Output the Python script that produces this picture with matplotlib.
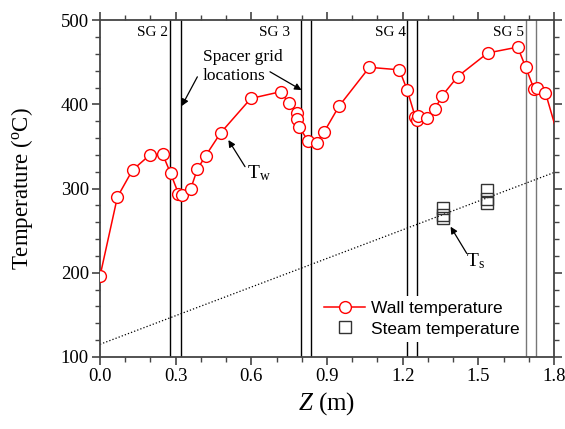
import matplotlib
matplotlib.use('Agg')
import matplotlib.pyplot as plt
from matplotlib.ticker import MultipleLocator

plt.rcParams['font.family'] = 'serif'
plt.rcParams['font.serif'] = ['Liberation Serif']
plt.rcParams['mathtext.fontset'] = 'custom'
plt.rcParams['mathtext.rm'] = 'Liberation Serif'
plt.rcParams['mathtext.it'] = 'Liberation Serif:italic'

# wall temperature
wall_z = [0.0, 0.069, 0.129, 0.198, 0.248, 0.280, 0.311, 0.324, 0.360, 0.386,
          0.419, 0.478, 0.598, 0.716, 0.748, 0.780, 0.782, 0.790, 0.826, 0.859,
          0.888, 0.948, 1.068, 1.187, 1.218, 1.250, 1.255, 1.261, 1.296, 1.327,
          1.356, 1.418, 1.537, 1.656, 1.688, 1.721, 1.731, 1.766, 1.830]
wall_t = [196, 290, 322, 340, 341, 318, 294, 292, 300, 323,
          339, 366, 407, 415, 402, 390, 383, 373, 356, 354,
          367, 398, 444, 441, 417, 385, 381, 386, 384, 394,
          410, 433, 461, 468, 444, 418, 420, 414, 348]

# steam temperature
steam_z = [1.358, 1.358, 1.358, 1.535, 1.535, 1.535]
steam_t = [277, 268, 265, 298, 288, 283]

# dotted steam line
fit_z = [0.0, 1.8]
fit_t = [115, 319]

# spacer grid locations
grid_z = [0.278, 0.320, 0.798, 0.838, 1.218, 1.258, 1.689, 1.729]
grid_c = ['k', 'k', 'k', 'k', 'k', 'k', '#777777', '#777777']
sg_labels = ['SG 2', 'SG 3', 'SG 4', 'SG 5']
sg_x = [0.270, 0.754, 1.213, 1.683]

fig = plt.figure(figsize=(5.65, 4.29), dpi=100)
ax = fig.add_axes([0.177, 0.168, 0.8035, 0.785])

for z, c in zip(grid_z, grid_c):
    ax.axvline(z, color=c, lw=1.0, zorder=1)

ax.plot(fit_z, fit_t, ':', color='k', lw=0.9, zorder=2)
ax.plot(wall_z, wall_t, '-o', color='red', lw=1.1, ms=8.5, mfc='white',
        mec='red', mew=1.0, label='Wall temperature', zorder=3)
ax.plot(steam_z, steam_t, 's', ms=8.5, mfc='none', mec='#333333', mew=1.0,
        label='Steam temperature', zorder=3)

for s, x in zip(sg_labels, sg_x):
    ax.text(x, 485, s, ha='right', va='center', fontsize=11)

ax.text(0.407, 445, 'Spacer grid\nlocations', ha='left', va='center',
        fontsize=12.5, linespacing=1.2)
arr = dict(arrowstyle='-|>', color='k', lw=0.9, mutation_scale=10,
           shrinkA=0, shrinkB=0)
ax.annotate('', xy=(0.324, 398), xytext=(0.386, 432.7), arrowprops=arr)
ax.annotate('', xy=(0.799, 417), xytext=(0.674, 438.7), arrowprops=arr)
ax.annotate('', xy=(0.509, 357.6), xytext=(0.575, 326), arrowprops=arr)
ax.annotate('', xy=(1.390, 254.7), xytext=(1.454, 223), arrowprops=arr)
ax.text(0.581, 318, r'T$_{\rm w}$', ha='left', va='center', fontsize=14)
ax.text(1.453, 214, r'T$_{\rm s}$', ha='left', va='center', fontsize=14)

ax.set_xlim(0, 1.8)
ax.set_ylim(100, 500)
ax.xaxis.set_major_locator(MultipleLocator(0.3))
ax.xaxis.set_minor_locator(MultipleLocator(0.1))
ax.yaxis.set_major_locator(MultipleLocator(100))
ax.yaxis.set_minor_locator(MultipleLocator(20))
ax.set_xticklabels([f'{v:.1f}' for v in ax.get_xticks()])
ax.tick_params(which='both', direction='out', top=True, right=True,
               color='#444444', labelsize=13.5, pad=2)
ax.tick_params(which='major', length=6, width=1.2)
ax.tick_params(which='minor', length=3.5, width=1.0)
for lab in ax.get_xticklabels() + ax.get_yticklabels():
    lab.set_fontfamily('Liberation Serif')
for sp in ax.spines.values():
    sp.set_color('#444444')
    sp.set_linewidth(1.3)

ax.set_xlabel('$Z$ (m)', fontsize=18, family='Liberation Serif')
ax.set_ylabel(r'Temperature ($^{\rm o}$C)', fontsize=16.5,
              family='Liberation Serif')
ax.yaxis.set_label_coords(-0.143, 0.5)

leg = ax.legend(loc='lower right', bbox_to_anchor=(0.935, 0.045),
                borderaxespad=0, fancybox=False, framealpha=1,
                prop={'family': 'Liberation Sans', 'size': 12.5},
                handlelength=2.4, handletextpad=0.3, labelspacing=0.3,
                borderpad=0.3)
leg.get_frame().set_edgecolor('none')
leg.set_zorder(5)

fig.savefig('out.png', dpi=100)
